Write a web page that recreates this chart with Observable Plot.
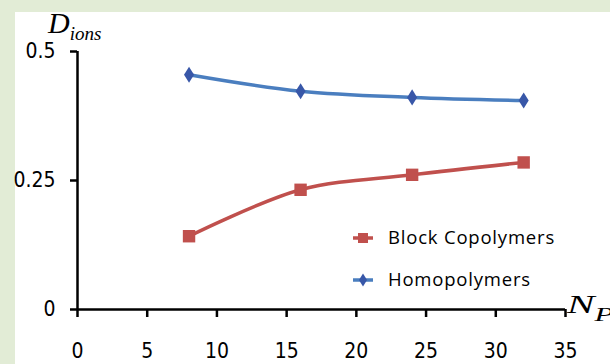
<!DOCTYPE html>
<html>
<head>
<meta charset="utf-8">
<script src="https://cdn.jsdelivr.net/npm/d3@7"></script>
<script src="https://cdn.jsdelivr.net/npm/@observablehq/plot@0.6"></script>
<style>
  html, body { margin: 0; padding: 0; }
  body { width: 610px; height: 364px; overflow: hidden; background: #e2ecd6; position: relative; }
  #chart { position: absolute; left: 15px; top: 12px; width: 595px; height: 352px; background: #fff; }
  #chart svg { display: block; overflow: visible; }
</style>
</head>
<body>
<div id="chart"></div>
<script>
// Number of polymer chains N_P and the ionic diffusivity D_ions
const chainCounts = [8, 16, 24, 32];
const blockCopolymers = [0.142, 0.232, 0.261, 0.285];
const homopolymers = [0.455, 0.423, 0.411, 0.405];

const seriesNames = ["Block Copolymers", "Homopolymers"];
const seriesColors = { line: ["#c0504d", "#4a7ebf"], marker: ["#c0504d", "#3857a8"] };

const xTicks = [0, 5, 10, 15, 20, 25, 30, 35];
const yTicks = [0, 0.25, 0.5];
const yTickLabels = ["0", "0.25", "0.5"];

const rows = [
  ...chainCounts.map((n, i) => ({ n, d: blockCopolymers[i], series: seriesNames[0] })),
  ...chainCounts.map((n, i) => ({ n, d: homopolymers[i], series: seriesNames[1] }))
];
const block = rows.filter(r => r.series === seriesNames[0]);
const homo = rows.filter(r => r.series === seriesNames[1]);

// a diamond taller than it is wide
const tallDiamond = {
  draw(context, size) {
    const r = Math.sqrt(size / Math.PI);
    const h = r * 1.15, w = r * 0.72;
    context.moveTo(0, -h);
    context.lineTo(w, 0);
    context.lineTo(0, h);
    context.lineTo(-w, 0);
    context.closePath();
  }
};

const tickFont = "'Liberation Sans Narrow', 'DejaVu Sans Condensed', sans-serif";

const plot = Plot.plot({
  width: 595,
  height: 352,
  marginLeft: 62,
  marginRight: 45,
  marginTop: 39,
  marginBottom: 55,
  style: { fontFamily: tickFont, background: "transparent", color: "#000" },
  x: { domain: [0, 35] },
  y: { domain: [0, 0.5] },
  marks: [
    Plot.ruleX([0], { y1: 0, y2: 0.5, stroke: "#000", strokeWidth: 2.5 }),
    Plot.ruleY([0], { x1: 0, x2: 35, stroke: "#000", strokeWidth: 2.5 }),
    Plot.axisY({
      ticks: yTicks, tickSize: 7, tickPadding: 15, strokeWidth: 2.5,
      fontSize: 21, label: null, tickFormat: (d, i) => yTickLabels[i]
    }),
    Plot.axisX({
      ticks: xTicks, tickSize: 8, tickPadding: 26, strokeWidth: 2.5,
      fontSize: 21, label: null, tickFormat: d => String(d)
    }),
    Plot.line(block, { x: "n", y: "d", curve: "catmull-rom", stroke: seriesColors.line[0], strokeWidth: 3.5 }),
    Plot.line(homo, { x: "n", y: "d", curve: "catmull-rom", stroke: seriesColors.line[1], strokeWidth: 3.5 }),
    Plot.dot(block, { x: "n", y: "d", symbol: "square", r: 7, fill: seriesColors.marker[0], stroke: "none" }),
    Plot.dot(homo, { x: "n", y: "d", symbol: tallDiamond, r: 7, fill: seriesColors.marker[1], stroke: "none" })
  ]
});

document.getElementById("chart").appendChild(plot);

const svg = d3.select(plot);
const serif = "'Liberation Serif', 'DejaVu Serif', serif";

// axis titles: D_ions and N_P
const yTitle = svg.append("text")
  .attr("x", 33).attr("y", 21).attr("text-anchor", "start")
  .attr("font-family", serif).attr("font-style", "italic").attr("fill", "#000");
yTitle.append("tspan").attr("font-size", 30).text("D");
yTitle.append("tspan").attr("font-size", 19).attr("dy", 7).text("ions");

// the N_P title is set in a wide, stretched italic
const xTitle = svg.append("text")
  .attr("transform", "translate(552,301) scale(1.65,1)")
  .attr("text-anchor", "start")
  .attr("font-family", serif).attr("font-style", "italic").attr("fill", "#000");
xTitle.append("tspan").attr("font-size", 25).text("N");
xTitle.append("tspan").attr("font-size", 19).attr("dy", 8).text("P");

// legend
const legendFont = "'Open Sans', Lato, sans-serif";
const legend = svg.append("g");
const entries = [
  { name: seriesNames[0], y: 226, i: 0, sym: d3.symbolSquare },
  { name: seriesNames[1], y: 268, i: 1, sym: tallDiamond }
];
for (const e of entries) {
  legend.append("line")
    .attr("x1", 338).attr("x2", 358).attr("y1", e.y).attr("y2", e.y)
    .attr("stroke", seriesColors.line[e.i]).attr("stroke-width", 3.5);
  legend.append("path")
    .attr("transform", `translate(348,${e.y})`)
    .attr("d", d3.symbol(e.sym, 32 * Math.PI)())
    .attr("fill", seriesColors.marker[e.i]);
  legend.append("text")
    .attr("x", 373).attr("y", e.y).attr("dy", "0.35em").attr("text-anchor", "start")
    .attr("font-family", legendFont).attr("font-size", 18.5).attr("letter-spacing", "0.8px")
    .attr("fill", "#000")
    .text(e.name);
}
</script>
</body>
</html>
